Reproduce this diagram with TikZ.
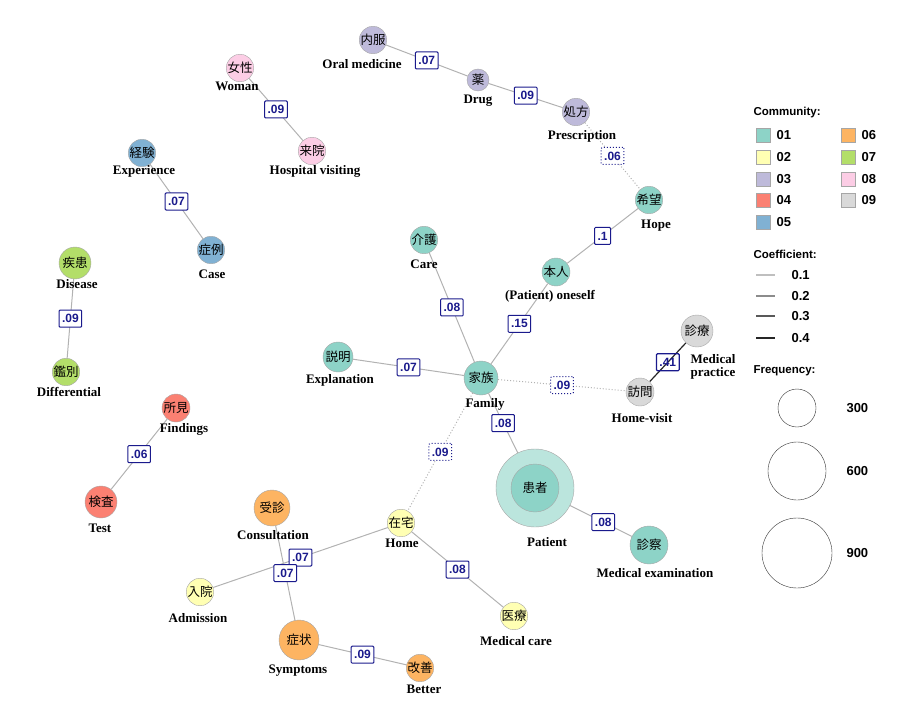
\documentclass[tikz,border=0pt]{standalone}
\usepackage{fontspec}
\setmainfont{Liberation Serif}
\setsansfont{Liberation Sans}
\newfontfamily\cjk{Noto Sans CJK JP}
\usetikzlibrary{positioning,backgrounds}
\definecolor{cA}{HTML}{8DD3C7}
\definecolor{cB}{HTML}{FFFFB3}
\definecolor{cC}{HTML}{BEBADA}
\definecolor{cD}{HTML}{FB8072}
\definecolor{cE}{HTML}{80B1D3}
\definecolor{cF}{HTML}{FDB462}
\definecolor{cG}{HTML}{B3DE69}
\definecolor{cH}{HTML}{FCCDE5}
\definecolor{cI}{HTML}{D9D9D9}
\definecolor{navy}{HTML}{1A1A8C}
\tikzset{
  word/.style={circle,draw=gray!70,thin,inner sep=0pt,font=\cjk\fontsize{12.5}{12.5}\selectfont},
  eng/.style={font=\fontsize{13}{13.5}\selectfont\bfseries,align=center},
  coef/.style={draw=navy,fill=white,rounded corners=1pt,inner sep=3pt,minimum height=17pt,text=navy,font=\sffamily\fontsize{12}{12}\selectfont\bfseries},
  link/.style={gray!60,line width=1pt},
  weak/.style={gray!60,line width=1pt,dotted},
  leghead/.style={font=\sffamily\fontsize{11.5}{12}\selectfont\bfseries,anchor=west},
  legtext/.style={font=\sffamily\fontsize{13}{13}\selectfont\bfseries,anchor=west}
}
\newcommand{\wnode}[6]{\node[word,fill=#5,minimum size=#4*2pt] (#1) at (#2,#3) {#6};}
\begin{document}
\begin{tikzpicture}[x=1pt,y=-1pt]
\useasboundingbox (0,0) rectangle (900,706);
% words
\wnode{naifuku}{373}{40}{10}{cC}{内服}
\wnode{kusuri}{478}{80}{11}{cC}{薬}
\wnode{shoho}{576}{112}{13}{cC}{処方}
\wnode{josei}{240}{68}{10}{cH}{女性}
\wnode{raiin}{312}{151}{11}{cH}{来院}
\wnode{keiken}{142}{153}{11}{cE}{経験}
\wnode{shorei}{211}{250}{11}{cE}{症例}
\wnode{kibo}{649}{200}{12}{cA}{希望}
\wnode{kaigo}{424}{240}{13}{cA}{介護}
\wnode{honnin}{556}{272}{14}{cA}{本人}
\wnode{shikkan}{75}{263}{16}{cG}{疾患}
\wnode{kanbetsu}{66}{372}{12}{cG}{鑑別}
\wnode{setsumei}{338}{357}{15}{cA}{説明}
\wnode{kazoku}{481}{378}{17}{cA}{家族}
\wnode{shinryo}{697}{331}{16}{cI}{診療}
\wnode{homon}{640}{392}{14}{cI}{訪問}
\wnode{shoken}{176}{408}{14}{cD}{所見}
\wnode{kensa}{101}{502}{16}{cD}{検査}
\node[circle,draw=gray!70,fill=cA!60,minimum size=78pt,inner sep=0pt] (kanjaout) at (535,488) {};
\wnode{kanja}{535}{488}{24}{cA}{患者}
\node[circle,minimum size=78pt,inner sep=0pt] (kanjaB) at (535,488) {};
\wnode{shinsatsu}{649}{545}{19}{cA}{診察}
\wnode{jushin}{272}{508}{18}{cF}{受診}
\wnode{zaitaku}{401}{523}{11}{cB}{在宅}
\wnode{nyuin}{200}{592}{11}{cB}{入院}
\wnode{shojo}{299}{640}{20}{cF}{症状}
\wnode{kaizen}{420}{668}{12}{cF}{改善}
\wnode{iryo}{514}{616}{13}{cB}{医療}
% english labels
\node[eng] (tOral) at (362,64) {Oral medicine};
\node[eng] (tDrug) at (478,101) {Drug};
\node[eng] (tPresc) at (582,136) {Prescription};
\node[eng] (tWoman) at (237,86) {Woman};
\node[eng] (tHosp) at (315,171) {Hospital visiting};
\node[eng] (tExp) at (144,171) {Experience};
\node[eng] (tCase) at (212,274) {Case};
\node[eng] (tHope) at (656,226) {Hope};
\node[eng] (tCare) at (424,264) {Care};
\node[eng] (tSelf) at (550,296) {(Patient) oneself};
\node[eng] (tDis) at (77,284) {Disease};
\node[eng] (tDiff) at (69,392) {Differential};
\node[eng] (tExpl) at (340,380) {Explanation};
\node[eng] (tFam) at (485,404) {Family};
\node[eng,align=left] (tPrac) at (713,367) {Medical\\practice};
\node[eng] (tVisit) at (642,418) {Home-visit};
\node[eng] (tFind) at (184,429) {Findings};
\node[eng] (tTest) at (100,528) {Test};
\node[eng] (tPat) at (547,542) {Patient};
\node[eng] (tExam) at (655,573) {Medical examination};
\node[eng] (tCons) at (273,535) {Consultation};
\node[eng] (tHome) at (402,543) {Home};
\node[eng] (tAdm) at (198,618) {Admission};
\node[eng] (tSymp) at (298,671) {Symptoms};
\node[eng] (tBet) at (424,689) {Better};
\node[eng] (tMed) at (516,641) {Medical care};
% edges
\begin{scope}[on background layer]
\draw[link] (naifuku) -- node[coef] {.07} (kusuri);
\draw[link] (kusuri) -- node[coef] {.09} (shoho);
\draw[weak] (shoho) -- node[coef] {.06} (kibo);
\draw[link] (josei) -- node[coef] {.09} (raiin);
\draw[link] (keiken) -- node[coef] {.07} (shorei);
\draw[link] (shikkan) -- node[coef] {.09} (kanbetsu);
\draw[link] (kibo) -- node[coef] {.1} (honnin);
\draw[link] (honnin) -- node[coef] {.15} (kazoku);
\draw[link] (kaigo) -- node[coef] {.08} (kazoku);
\draw[link] (setsumei) -- node[coef] {.07} (kazoku);
\draw[weak] (kazoku) -- node[coef] {.09} (homon);
\draw[black!85,line width=1.2pt] (shinryo) -- node[coef,fill=none] {.41} (homon);
\draw[link] (kazoku) -- node[coef] {.08} (kanjaB);
\draw[weak] (kazoku) -- node[coef] {.09} (zaitaku);
\draw[link] (kanja) -- node[coef,pos=0.62] {.08} (shinsatsu);
\draw[link] (shoken) -- node[coef] {.06} (kensa);
\draw[link] (zaitaku) -- node[coef] {.07} (nyuin);
\draw[link] (jushin) -- node[coef] {.07} (shojo);
\draw[link] (zaitaku) -- node[coef] {.08} (iryo);
\draw[link] (shojo) -- node[coef] {.09} (kaizen);
\end{scope}
% legend
\node[leghead] (lgCom) at (750,113) {Community:};
\foreach \c/\n/\x/\y in {cA/01/763/135,cB/02/763/157,cC/03/763/179,cD/04/763/200,cE/05/763/222,
  cF/06/848/135,cG/07/848/157,cH/08/848/179,cI/09/848/200}{
  \node[draw=gray!70,fill=\c,minimum size=14pt,inner sep=0pt] (sq\n) at (\x,\y) {};
  \node[legtext] at (\x+10,\y) {\n};
}
\node[leghead] (lgCoef) at (750,254) {Coefficient:};
\foreach \g/\v/\y in {25/0.1/275,45/0.2/296,65/0.3/316,85/0.4/338}{
  \draw[black!\g,line width=1.2pt] (756,\y) -- (775,\y);
  \node[legtext] at (788,\y) {\v};
}
\node[leghead] (lgFreq) at (750,371) {Frequency:};
\foreach \r/\v/\y in {19/300/408,29/600/471,35/900/553}{
  \draw[black!80] (797,\y) circle (\r);
  \node[legtext] at (843,\y) {\v};
}
\end{tikzpicture}
\end{document}
